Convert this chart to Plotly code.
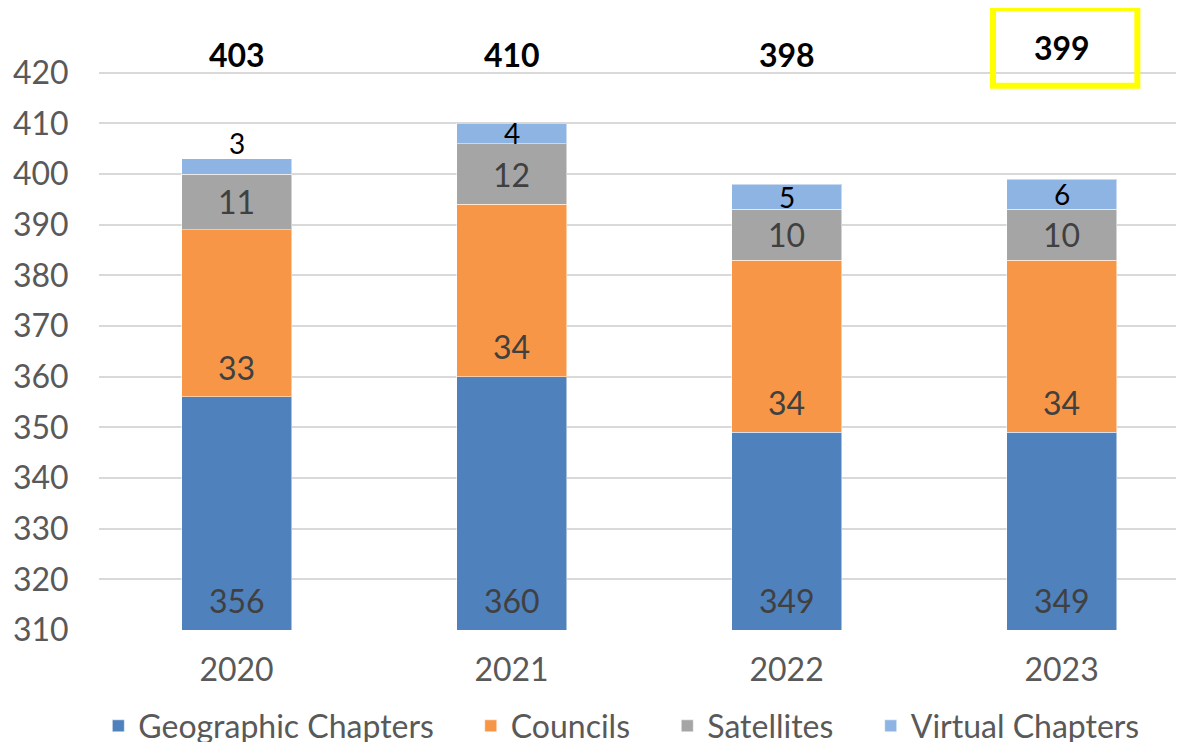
import plotly.graph_objects as go

years = ["2020", "2021", "2022", "2023"]
geographic = [356, 360, 349, 349]
councils = [33, 34, 34, 34]
satellites = [11, 12, 10, 10]
virtual = [3, 4, 5, 6]
totals = [403, 410, 398, 399]
series_names = ["Geographic Chapters", "Councils", "Satellites", "Virtual Chapters"]
y_ticks = [310, 320, 330, 340, 350, 360, 370, 380, 390, 400, 410, 420]

colors = ["#4F81BD", "#F79646", "#A5A5A5", "#8EB4E3"]
FONT = "Lato"
xs = list(range(len(years)))
Y_MIN, Y_MAX = 310, 430
legend_ids = ["legend", "legend2", "legend3", "legend4"]
legend_x = [0.0768, 0.3935, 0.5606, 0.7336]

fig = go.Figure()
series = [geographic, councils, satellites, virtual]
for name, vals, col, lid in zip(series_names, series, colors, legend_ids):
    fig.add_trace(go.Bar(
        x=xs, y=vals, name=name, width=0.4, legend=lid,
        marker=dict(color=col, line=dict(color="rgba(255,255,255,0.5)", width=1)),
        hoverinfo="skip",
    ))

annotations = []
base = [0] * len(years)
for si, vals in enumerate(series):
    for i, v in enumerate(vals):
        lo = base[i]
        hi = lo + v
        if si == 0:
            yy = Y_MIN + 5.8
            fsize, fcol = 32, "#404040"
        elif si == 1:
            yy = lo + 5.9
            fsize, fcol = 32, "#404040"
        elif si == 2:
            yy = (lo + hi) / 2
            fsize, fcol = 32, "#404040"
        else:
            yy = (lo + hi) / 2 if v > 3 else hi + 3.2
            fsize, fcol = 28, "#000000"
        annotations.append(dict(
            x=i, y=yy, xref="x", yref="y", text=str(v), showarrow=False,
            font=dict(family=FONT, size=fsize, color=fcol),
            xanchor="center", yanchor="middle",
        ))
        base[i] = hi

for i, t in enumerate(totals):
    yy = 424.9 if i == 3 else 423.5
    annotations.append(dict(
        x=i, y=yy, xref="x", yref="y", text="<b>%d</b>" % t, showarrow=False,
        font=dict(family=FONT, size=32, color="#000000"),
        xanchor="center", yanchor="middle",
    ))

legend_style = dict(
    orientation="h", xref="container", yref="container",
    xanchor="left", y=0.0218, yanchor="middle",
    font=dict(family=FONT, size=32, color="#595959"),
    bgcolor="rgba(0,0,0,0)", borderwidth=0,
)
legends = {lid: dict(legend_style, x=lx) for lid, lx in zip(legend_ids, legend_x)}

fig.update_layout(
    barmode="stack",
    width=1176, height=734,
    margin=dict(l=91, r=0, t=14, b=112),
    paper_bgcolor="white", plot_bgcolor="white",
    font=dict(family=FONT, color="#595959"),
    annotations=annotations,
    showlegend=True,
    xaxis=dict(
        range=[-0.5, 3.445], tickmode="array", tickvals=xs, ticktext=years,
        showgrid=False, zeroline=False, showline=False,
        tickfont=dict(family=FONT, size=32, color="#595959"),
        ticks="outside", ticklen=0, tickcolor="white", ticklabelstandoff=12,
    ),
    yaxis=dict(
        range=[Y_MIN, Y_MAX], tickmode="array", tickvals=y_ticks,
        showgrid=True, gridcolor="#D9D9D9", gridwidth=2,
        zeroline=False, showline=False,
        tickfont=dict(family=FONT, size=32, color="#595959"),
        ticks="outside", ticklen=0, ticklabelstandoff=23,
    ),
    shapes=[dict(
        type="rect", xref="paper", yref="paper",
        x0=0.824, x1=0.957, y0=0.895, y1=1.023,
        line=dict(color="#FFFF00", width=6), fillcolor="rgba(0,0,0,0)",
    )],
    **legends,
)

fig.write_html("out.html")
